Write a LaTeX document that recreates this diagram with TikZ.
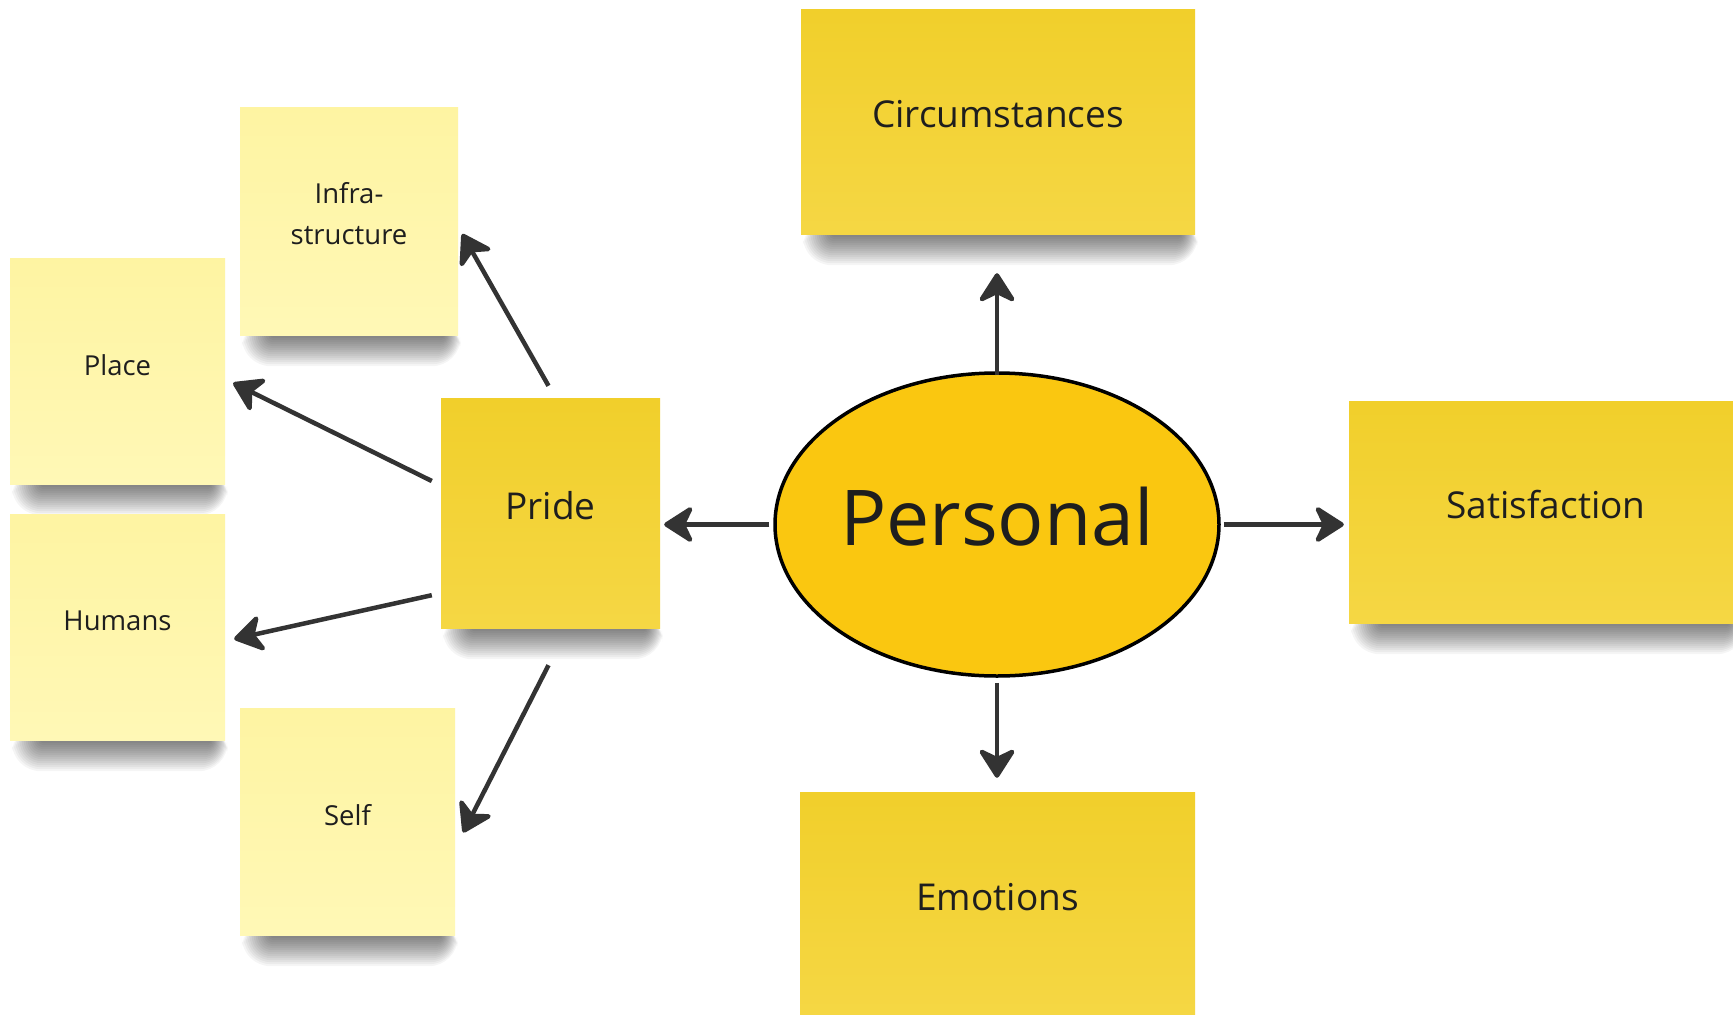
\documentclass[tikz,border=0pt]{standalone}
\usepackage{fontspec}
\setmainfont{Open Sans}
\usetikzlibrary{arrows.meta,calc,shapes.geometric}
\pgfdeclarelayer{paper}
\pgfdeclarelayer{castlayer}
\pgfsetlayers{paper,castlayer,main}
\definecolor{lightnoteA}{HTML}{FEF4A2}
\definecolor{lightnoteB}{HTML}{FFF8B6}
\definecolor{darknoteA}{HTML}{F1CF2B}
\definecolor{darknoteB}{HTML}{F5D744}
\definecolor{persfill}{HTML}{FAC710}
\definecolor{arrowgray}{HTML}{333333}
\definecolor{inkcol}{HTML}{1E1E1E}
\tikzset{
  notebase/.style={rectangle, inner sep=0pt, draw=none},
  lightnote/.style={notebase, top color=lightnoteA, bottom color=lightnoteB},
  darknote/.style={notebase, top color=darknoteA, bottom color=darknoteB},
  smalltxt/.style={text=inkcol, font=\fontsize{27.5}{41}\selectfont, align=center, inner sep=0pt},
  bigtxt/.style={text=inkcol, font=\fontsize{37}{44}\selectfont, align=center, inner sep=0pt},
  perstxt/.style={text=inkcol, font=\fontsize{77}{84}\selectfont, inner sep=0pt},
  conn/.style={draw=arrowgray, line width=4.5pt, -{Stealth[length=33pt, width=42pt, inset=10pt, round]}},
  persshape/.style={ellipse, draw=black, line width=3.5pt, fill=persfill, minimum width=444pt, minimum height=303pt, inner sep=0pt}
}
\newcommand\notecast[1]{%
  \begin{pgfonlayer}{castlayer}
  \foreach \kk in {0,...,15}{%
    \pgfmathsetmacro\shl{32-2*\kk}%
    \pgfmathsetmacro\shrr{14-1.1*\kk}%
    \pgfmathsetmacro\shb{1+2*\kk}%
    \pgfmathsetmacro\shr{2+1.8*\kk}%
    \fill[black, opacity=0.04, rounded corners=\shr pt]
      ($(#1.south west)+(\shl,-15)$) rectangle
      ($(#1.south east)+(-\shrr,\shb)$);
  }
  \end{pgfonlayer}}
\begin{document}
\begin{tikzpicture}[x=1pt,y=-1pt]
\begin{pgfonlayer}{paper}
\fill[white] (0,0) rectangle (1733,1015);
\end{pgfonlayer}
\useasboundingbox (0,0) rectangle (1733,1015);
\clip (0,0) rectangle (1733,1015);

% small notes
\node[lightnote, minimum width=218pt, minimum height=228pt] (infra) at (349,221) {};
\notecast{infra}
\node[smalltxt] (infratxt) at ([yshift=7pt]infra.center) {Infra-\\structure};

\node[lightnote, minimum width=215pt, minimum height=226pt] (place) at (117.5,371) {};
\notecast{place}
\node[smalltxt] (placetxt) at ([yshift=6pt]place.center) {Place};

\node[lightnote, minimum width=215pt, minimum height=226pt] (humans) at (117.5,627) {};
\notecast{humans}
\node[smalltxt] (humanstxt) at ([yshift=6pt]humans.center) {Humans};

\node[lightnote, minimum width=215pt, minimum height=227pt] (self) at (347.5,821.5) {};
\notecast{self}
\node[smalltxt] (selftxt) at ([yshift=6pt]self.center) {Self};

% dark notes
\node[darknote, minimum width=219pt, minimum height=230pt] (pride) at (550.5,513) {};
\notecast{pride}
\node[bigtxt] (pridetxt) at ([yshift=7pt]pride.center) {Pride};

\node[darknote, minimum width=394pt, minimum height=225pt] (circ) at (998,121.5) {};
\notecast{circ}
\node[bigtxt] (circtxt) at ([yshift=7pt]circ.center) {Circumstances};

\node[darknote, minimum width=394pt, minimum height=222pt] (satis) at (1546,512) {};
\notecast{satis}
\node[bigtxt] (satistxt) at ([yshift=7pt]satis.center) {Satisfaction};

\node[darknote, minimum width=395pt, minimum height=225pt] (emot) at (997.5,904.5) {};
\notecast{emot}
\node[bigtxt] (emottxt) at ([yshift=7pt]emot.center) {Emotions};

% central ellipse
\node[persshape] (pers) at (997,524.5) {};
\node[perstxt] (perstxt) at ([yshift=8pt]pers.center) {Personal};

% connectors from Personal
\coordinate (circtip) at ($(circ.south)+(0,39)$);
\draw[conn] ($(pers.north)+(0,4)$) -- (pers.north |- circtip);
\draw[conn] ($(pers.east)+(3,0)$) -- ($(satis.west |- pers.east)+(-5,0)$);
\draw[conn] ($(pers.south)+(0,5)$) -- ($(pers.south |- emot.north)+(0,-14)$);
\draw[conn] ($(pers.west)+(-4,0)$) -- ($(pride.east |- pers.west)+(4,0)$);

% connectors from Pride
\draw[conn] ($(pride.north)+(-2,-12)$) -- ($(infra.east)+(4,13)$);
\draw[conn] ($(pride.west)+(-9,-32)$) -- ($(place.east)+(8,12)$);
\draw[conn] ($(pride.south west)+(-9,-33)$) -- ($(humans.east)+(9,12)$);
\draw[conn] ($(pride.south)+(-2,37)$) -- ($(self.east)+(8,11)$);
\end{tikzpicture}
\end{document}
